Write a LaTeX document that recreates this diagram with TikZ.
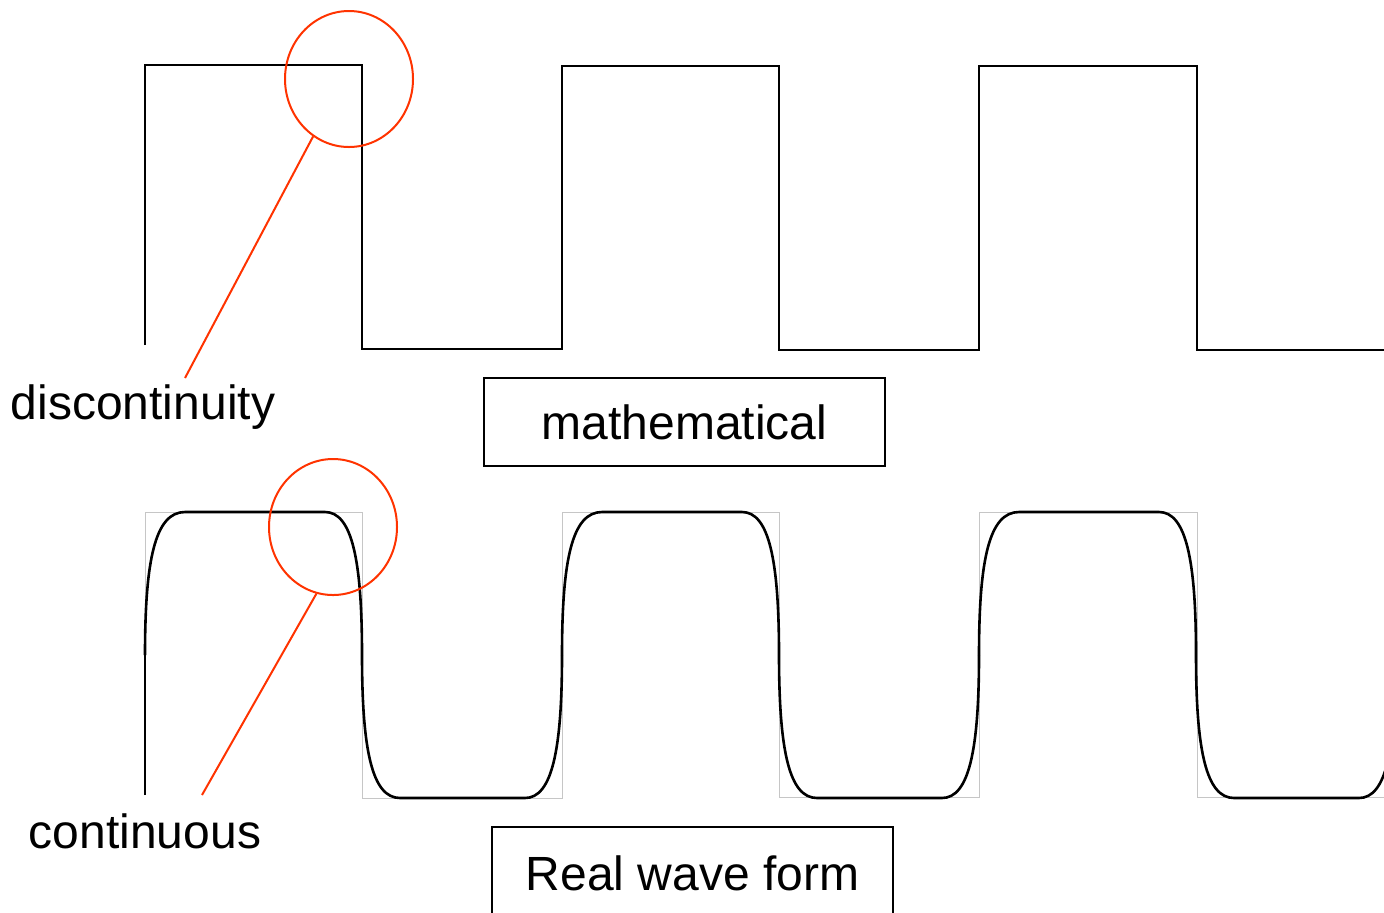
\documentclass[tikz,border=0pt]{standalone}
\usepackage{fontspec}
\setmainfont{Liberation Sans}
\usetikzlibrary{shapes.geometric}
\definecolor{markred}{HTML}{FF3300}

\begin{document}
\begin{tikzpicture}[x=0.5pt, y=-0.5pt, every node/.style={font=\fontsize{24}{28}\selectfont},
	hole/.style={draw=markred, line width=1pt, ellipse, minimum width=64pt, minimum height=68pt, inner sep=0pt},
	tag/.style={draw, line width=1pt, minimum width=200.5pt, minimum height=44pt, inner sep=0pt},
	pointer/.style={markred, line width=1pt},
	wave/.style={line width=1.3pt}]
	\useasboundingbox (0,0) rectangle (1384,912);
	\clip (0,0) rectangle (1384,912);
	% ideal square wave
	\draw[wave] (145,345) -- (145,65) -- (362,65) -- (362,349) -- (562,349) -- (562,66) -- (779,66) -- (779,350) -- (979,350) -- (979,66) -- (1197,66) -- (1197,350) -- (1400,350);
	\node[hole] (gap) at (349,79) {};
	\node (disc) at (143,407) {discontinuity};
	\coordinate (discend) at (185,378);
	\draw[pointer] (gap.238) -- (discend);
	\node[tag] (math) at (684.5,422) {mathematical};
	% real wave form over a faint square wave
	\draw[gray!45, line width=0.5pt] (145,795) -- (145,512) -- (362,512) -- (362,798) -- (562,798) -- (562,512) -- (779,512) -- (779,797) -- (979,797) -- (979,512) -- (1197,512) -- (1197,797) -- (1400,797);
	\draw[wave] (145,795) -- (145,655);
	\foreach \x in {145,562,979} {
		\draw[wave] (\x,655) .. controls (\x,560) and (\x+10,512) .. (\x+40,512) -- (\x+180,512)
			.. controls (\x+207,512) and (\x+217,560) .. (\x+217,655)
			.. controls (\x+217,750) and (\x+227,798) .. (\x+255,798) -- (\x+380,798)
			.. controls (\x+407,798) and (\x+417,750) .. (\x+417,655);
	}
	\node[hole] (smooth) at (333,527) {};
	\node (cont) at (145,831) {continuous};
	\coordinate (contend) at (202,795);
	\draw[pointer] (smooth.256) -- (contend);
	\node[tag, minimum height=46pt] (real) at (692.5,873) {Real wave form};
\end{tikzpicture}
\end{document}
